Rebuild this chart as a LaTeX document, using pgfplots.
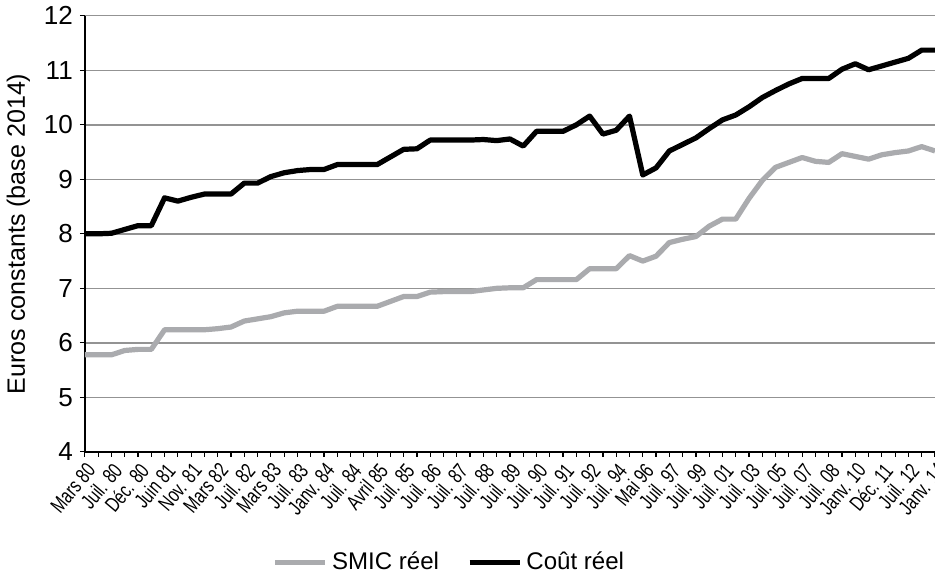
\documentclass[border=0pt]{standalone}
\usepackage{fontspec}
\setmainfont{Liberation Sans}
\newfontfamily\narrow[FakeStretch=0.74]{Liberation Sans}
\usepackage{pgfplots}
\usepackage{pgfplotstable}
\pgfplotsset{compat=1.18}
\definecolor{smic}{RGB}{170,171,174}

% k = index of the revaluation date, two dates per labelled tick
\pgfplotstableread{
k smic cout
0 5.78 8.00
1 5.78 8.00
2 5.78 8.01
3 5.86 8.08
4 5.88 8.15
5 5.88 8.15
6 6.24 8.66
7 6.24 8.60
8 6.24 8.67
9 6.24 8.73
10 6.26 8.73
11 6.29 8.73
12 6.40 8.93
13 6.44 8.93
14 6.48 9.05
15 6.55 9.12
16 6.58 9.16
17 6.58 9.18
18 6.58 9.18
19 6.67 9.27
20 6.67 9.27
21 6.67 9.27
22 6.67 9.27
23 6.76 9.41
24 6.85 9.55
25 6.85 9.56
26 6.93 9.72
27 6.94 9.72
28 6.94 9.72
29 6.94 9.72
30 6.97 9.73
31 7.00 9.71
32 7.01 9.74
33 7.01 9.61
34 7.16 9.88
35 7.16 9.88
36 7.16 9.88
37 7.16 10.00
38 7.36 10.16
39 7.36 9.83
40 7.36 9.90
41 7.60 10.16
42 7.50 9.08
43 7.59 9.21
44 7.84 9.52
45 7.90 9.64
46 7.95 9.76
47 8.14 9.93
48 8.27 10.09
49 8.27 10.18
50 8.65 10.33
51 8.98 10.50
52 9.22 10.63
53 9.31 10.75
54 9.40 10.85
55 9.33 10.85
56 9.31 10.85
57 9.47 11.02
58 9.42 11.12
59 9.37 11.01
60 9.45 11.08
61 9.49 11.15
62 9.52 11.22
63 9.60 11.37
64 9.52 11.37
}\data

\begin{document}
\begin{tikzpicture}[trim axis right]
\begin{axis}[
    width=424pt, height=217.5pt, scale only axis,
    xmin=0, xmax=64, ymin=4, ymax=12,
    axis x line*=bottom, axis y line*=left,
    axis line style={black, line width=0.8pt},
    ytick={4,...,12},
    ymajorgrids,
    grid style={gray!85, line width=0.7pt},
    xtick={0,2,...,64},
    minor xtick={1,3,...,63},
    xticklabels={Mars 80, Juil. 80, Déc. 80, Juin 81, Nov. 81, Mars 82, Juil. 82, Mars 83, Juil. 83, Janv. 84, Juil. 84, Avril 85, Juil. 85, Juil. 86, Juil. 87, Juil. 88, Juil. 89, Juil. 90, Juil. 91, Juil. 92, Juil. 94, Mai 96, Juil. 97, Juil. 99, Juil. 01, Juil. 03, Juil. 05, Juil. 07, Juil. 08, Janv. 10, Déc. 11, Juil. 12, Janv. 14},
    x tick label style={font=\narrow\fontsize{10.5}{10.5}\selectfont, rotate=50, anchor=north east, inner sep=1.5pt},
    y tick label style={font=\fontsize{13}{13}\selectfont},
    /pgf/number format/assume math mode=true,
    tick align=outside,
    major tick length=2.5pt, minor tick length=2.5pt,
    tick style={black, line width=0.6pt},
    xtick pos=bottom, ytick pos=left,
    ylabel={Euros constants (base 2014)},
    ylabel style={font=\fontsize{12.5}{12.5}\selectfont},
    legend style={at={(0.43,-0.253)}, anchor=center, draw=none, font=\fontsize{12}{12}\selectfont, /tikz/every even column/.append style={column sep=12pt}},
    legend columns=2,
    legend image code/.code={\draw[#1] (0pt,0pt) -- (25pt,0pt);},
]
\addplot[smic, line width=2.6pt, line join=round] table[x=k, y=smic] {\data};
\addlegendentry{SMIC réel}
\addplot[black, line width=2.6pt, line join=round] table[x=k, y=cout] {\data};
\addlegendentry{Coût réel}
\end{axis}
\end{tikzpicture}
\end{document}
